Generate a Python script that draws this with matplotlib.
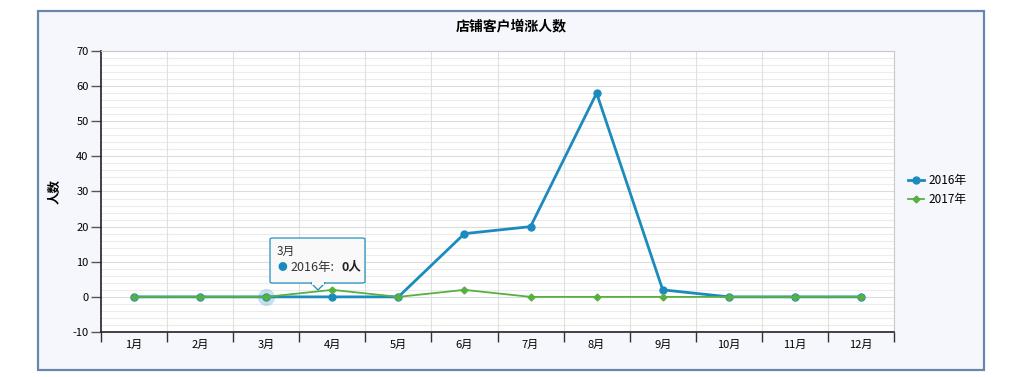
import matplotlib.pyplot as plt
import numpy as np
from matplotlib.patches import Rectangle, FancyBboxPatch, Polygon

plt.rcParams['font.family'] = ['Noto Sans CJK SC', 'DejaVu Sans']
plt.rcParams['axes.unicode_minus'] = False

months = ['1月', '2月', '3月', '4月', '5月', '6月', '7月', '8月', '9月', '10月', '11月', '12月']
y2016 = [0, 0, 0, 0, 0, 18, 20, 58, 2, 0, 0, 0]
y2017 = [0, 0, 0, 2, 0, 2, 0, 0, 0, 0, 0, 0]
c2016 = '#1b8bbe'
c2017 = '#58b042'

W, H = 1019, 377
fig = plt.figure(figsize=(W/100, H/100), dpi=100)
fig.patch.set_facecolor('white')

# outer frame
fig.add_artist(Rectangle((38/W, 1-370/H), (984-38)/W, (370-11)/H, transform=fig.transFigure,
                         facecolor='#f6f7fc', edgecolor='#6a86ad', lw=1.6, zorder=0))

ax = fig.add_axes([101/W, 1-332/H, (894-101)/W, (332-51)/H])
ax.set_facecolor('white')
x = np.arange(len(months))
ax.set_xlim(-0.5, len(months)-0.5)
ax.set_ylim(-10, 70)

# grid
for v in np.arange(-10, 71, 2):
    ax.axhline(v, color='#dcdcdc' if v % 10 == 0 else '#ececec', lw=0.8, zorder=0)
for b in np.arange(0.5, len(months)-0.5, 1):
    ax.axvline(b, color='#e0e0e0', lw=0.8, zorder=0)

ax.plot(x, y2016, color=c2016, lw=2.0, marker='o', ms=5, zorder=3, label='2016年')
ax.plot(x, y2017, color=c2017, lw=1.3, marker='D', ms=3.5, zorder=4, label='2017年')

# hover halo on 3月
ax.scatter([2], [y2016[2]], s=150, color=c2016, alpha=0.25, zorder=2, lw=0)

ax.set_yticks(np.arange(-10, 71, 10))
ax.set_xticks(np.arange(-0.5, len(months)+0.5, 1))
ax.set_xticklabels([])
ax.set_xticks(x, minor=True)
ax.set_xticklabels(months, minor=True)
ax.tick_params(axis='x', which='major', length=7, color='#333333', width=1)
ax.tick_params(axis='x', which='minor', length=0, labelsize=8, pad=6)
ax.tick_params(axis='y', length=7, color='#555555', width=1, labelsize=8, pad=2)
for s in ['top', 'right']:
    ax.spines[s].set_color('#c8c8c8')
for s in ['left', 'bottom']:
    ax.spines[s].set_color('#222222')
    ax.spines[s].set_linewidth(1.2)

ax.set_ylabel('人数', fontsize=9, fontweight='bold', labelpad=8)
fig.text(511/W, 1-26/H, '店铺客户增涨人数', ha='center', va='center', fontsize=10, fontweight='bold')

ax.legend(loc='center left', bbox_to_anchor=(1.012, 0.505), frameon=False, fontsize=8.5,
          handlelength=1.3, handletextpad=0.4, labelspacing=0.45, borderaxespad=0)

# tooltip
tx0, ty0, tx1, ty1 = 270, 238, 365, 283
fig.add_artist(FancyBboxPatch((tx0/W, 1-ty1/H), (tx1-tx0)/W, (ty1-ty0)/H,
                              boxstyle='round,pad=0,rounding_size=0.003', transform=fig.transFigure,
                              facecolor='#f9f9f9', edgecolor=c2016, lw=0.9, alpha=0.95, zorder=10))
fig.add_artist(Polygon([(311/W, 1-283/H), (325/W, 1-283/H), (318/W, 1-290/H)],
                       closed=True, transform=fig.transFigure, facecolor='#f9f9f9',
                       edgecolor=c2016, lw=0.9, zorder=10))
fig.add_artist(Rectangle((312/W, 1-284.5/H), 12/W, 2.5/H, transform=fig.transFigure,
                         facecolor='#f9f9f9', edgecolor='none', zorder=11))
fig.text(277/W, 1-251/H, '3月', fontsize=8.5, va='center', zorder=12, color='#333333')
fig.text(277/W, 1-267/H, '●', fontsize=7, va='center', color=c2016, zorder=12)
fig.text(290/W, 1-267/H, '2016年:', fontsize=9, va='center', zorder=12, color='#333333')
fig.text(341/W, 1-267/H, '0人', fontsize=9, va='center', fontweight='bold', zorder=12, color='#222222')

fig.savefig('out.png', dpi=100)
